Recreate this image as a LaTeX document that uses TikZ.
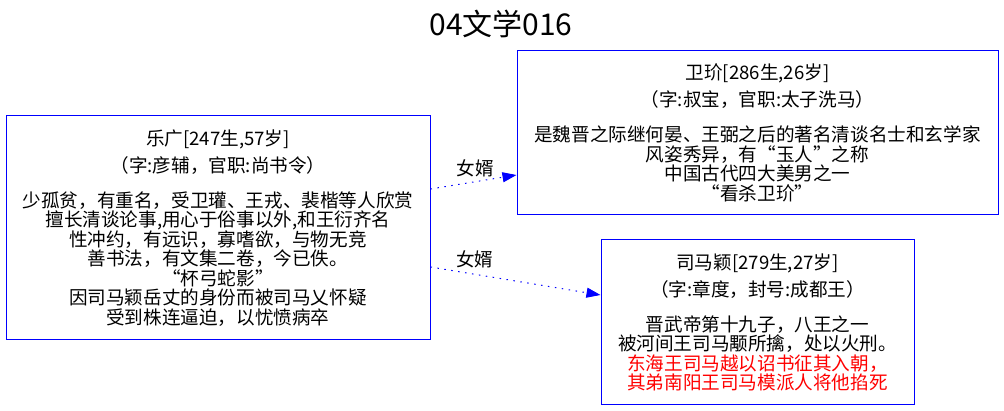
\documentclass[tikz,border=0pt]{standalone}
\usepackage{fontspec}
\setmainfont{Noto Sans CJK SC}
\usetikzlibrary{arrows.meta}
\definecolor{gvblue}{RGB}{0,0,255}
\definecolor{gvred}{RGB}{255,0,0}
\tikzset{
  person/.style={draw=gvblue, line width=1pt, rectangle, align=center, inner sep=0pt,
    font=\fontsize{18.6}{19.5}\selectfont, text=black},
  kin/.style={draw=gvblue, line width=1pt, dash pattern=on 1.5pt off 5.5pt,
    -{Triangle[length=14pt,width=10pt]}},
  kinlabel/.style={font=\fontsize{18.6}{19.5}\selectfont, text=black, inner sep=0pt}
}
\begin{document}
\begin{tikzpicture}[x=1pt,y=-1pt]
\useasboundingbox (0,0) rectangle (1004,411);
\node[font=\fontsize{30}{32}\selectfont] (title) at (501,24) {04文学016};

\node[person, minimum width=424pt, minimum height=224pt] (L) at (218,228) {%
乐广[247生,57岁]\\[7.5pt]
（字:彦辅，官职:尚书令）\\[15.5pt]
少孤贫，有重名，受卫瓘、王戎、裴楷等人欣赏\\
擅长清谈论事,用心于俗事以外,和王衍齐名\\
性冲约，有远识，寡嗜欲，与物无竞\\
善书法，有文集二卷，今已佚。\\
“杯弓蛇影”\\
因司马颖岳丈的身份而被司马乂怀疑\\
受到株连逼迫，以忧愤病卒};

\node[person, minimum width=481pt, minimum height=164pt] (T) at (757.5,133) {%
卫玠[286生,26岁]\\[7.5pt]
（字:叔宝，官职:太子洗马）\\[15.5pt]
是魏晋之际继何晏、王弼之后的著名清谈名士和玄学家\\
风姿秀异，有“玉人”之称\\
中国古代四大美男之一\\
“看杀卫玠”};

\node[person, minimum width=313pt, minimum height=165pt] (B) at (757.5,322.5) {%
司马颖[279生,27岁]\\[7.5pt]
（字:章度，封号:成都王）\\[15.5pt]
晋武帝第十九子，八王之一\\
被河间王司马颙所擒，处以火刑。\\
\textcolor{gvred}{东海王司马越以诏书征其入朝，}\\
\textcolor{gvred}{其弟南阳王司马模派人将他掐死}};

\draw[kin] ([yshift=39pt]L.east) -- node[kinlabel, pos=0.52, yshift=13pt] (r1) {女婿} ([yshift=-42pt]T.west);
\draw[kin] ([yshift=-39pt]L.east) -- node[kinlabel, pos=0.26, yshift=15pt] (r2) {女婿} ([yshift=27.5pt]B.west);
\end{tikzpicture}
\end{document}
